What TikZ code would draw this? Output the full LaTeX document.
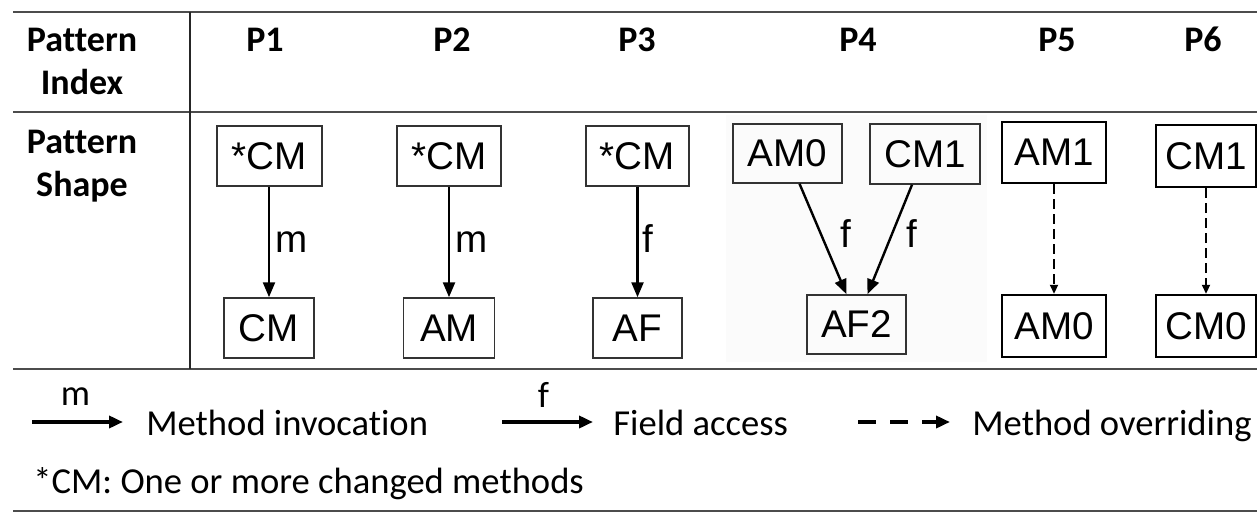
\documentclass[tikz,border=0pt]{standalone}
\usepackage{fontspec}
\setmainfont{Carlito}[Ligatures=NoCommon]
\newfontfamily\arialf{Liberation Sans}
\usetikzlibrary{arrows.meta}
\begin{document}
\begin{tikzpicture}[x=0.5pt,y=-0.5pt,
  rule/.style={line width=1.3pt, draw=black!70},
  vrule/.style={line width=1.1pt, draw=black!85},
  wh/.style 2 args={minimum width=#1*0.5pt, minimum height=#2*0.5pt},
  box/.style={draw=black!80, line width=0.75pt, inner sep=0pt, font=\arialf\fontsize{19.3}{22}\selectfont, text=black},
  tbox/.style={box, line width=1.2pt, draw=black},
  hdr/.style={font=\bfseries\fontsize{18}{21}\selectfont, anchor=base, inner sep=0pt},
  arr/.style={line width=1.2pt, -{Triangle[length=7.5pt,width=6pt]}},
  darr/.style={line width=0.9pt, dash pattern=on 5pt off 2.5pt, -{Triangle[length=4.5pt,width=4pt]}},
  elbl/.style={font=\arialf\fontsize{19.3}{22}\selectfont, anchor=base west, inner sep=0pt},
  leg/.style={font=\fontsize{18.3}{21}\selectfont, anchor=base west, inner sep=0pt},
  legarr/.style={line width=1.9pt, -{Triangle[length=7pt,width=6pt]}},
  legdarr/.style={line width=1.9pt, dash pattern=on 9pt off 7pt, -{Triangle[length=7pt,width=6pt]}},
]
\useasboundingbox (0,0) rectangle (1257,513);
% faint background of the P4 image
\fill[black!1.5] (726,115) rectangle (987,362);
% table rules
\draw[rule] (13,12) -- (1257,12);
\draw[rule] (13,112) -- (1257,112);
\draw[rule] (13,369) -- (1257,369);
\draw[rule] (13,511) -- (1257,511);
\draw[vrule] (190,12) -- (190,369);
% headers
\node[hdr] (h1) at (82,52) {Pattern};
\node[hdr] (h2) at (82,95) {Index};
\node[hdr] (h3) at (82,154) {Pattern};
\node[hdr] (h4) at (82,197) {Shape};
\node[hdr] (pa) at (265,52) {P1};
\node[hdr] (pb) at (452,52) {P2};
\node[hdr] (pc) at (637,52) {P3};
\node[hdr] (pd) at (858,52) {P4};
\node[hdr] (pe) at (1057,52) {P5};
\node[hdr] (pf) at (1203,52) {P6};
% P1
\node[box, wh={105}{60}] (a1) at (269.5,156) {*CM};
\node[box, wh={90}{60}] (a2) at (269,328) {CM};
\draw[arr] (a1.south -| a2.north) -- node[elbl, xshift=2.5pt, yshift=-5.5pt] {m} (a2.north);
% P2
\node[box, wh={104}{60}] (b1) at (449,156) {*CM};
\node[box, wh={91}{60}] (b2) at (449,328) {AM};
\draw[arr] (b1.south) -- node[elbl, xshift=2.5pt, yshift=-5.5pt] {m} (b2.north);
% P3
\node[box, wh={103}{60}] (c1) at (637.5,156) {*CM};
\node[box, wh={89}{60}] (c2) at (637.5,328) {AF};
\draw[arr] (c1.south) -- node[elbl, xshift=2pt, yshift=-5.5pt] {f} (c2.north);
% P4
\node[box, wh={109}{59}] (d1) at (787.5,153.5) {AM0};
\node[box, wh={110}{60}] (d2) at (925,154) {CM1};
\node[box, wh={99}{59}] (d3) at (856.5,324.5) {AF2};
\draw[arr] ([xshift=6pt]d1.south) -- node[elbl, xshift=8pt, yshift=-4.25pt] {f} ([xshift=-5pt]d3.north);
\draw[arr] ([xshift=-6.5pt]d2.south) -- node[elbl, xshift=8pt, yshift=-4.25pt] {f} ([xshift=5.5pt]d3.north);
% P5
\node[tbox, wh={104}{61}] (e1) at (1054,152.5) {AM1};
\node[tbox, wh={104}{62}] (e2) at (1054,326) {AM0};
\draw[darr] (e1.south) -- (e2.north);
% P6
\node[tbox, wh={100}{62}] (f1) at (1206,156) {CM1};
\node[tbox, wh={100}{62}] (f2) at (1206,326) {CM0};
\draw[darr] (f1.south) -- (f2.north);
% legend
\coordinate (la) at (32,422);
\coordinate (lb) at (123,422);
\coordinate (lc) at (502,422);
\coordinate (ld) at (593,422);
\coordinate (le) at (858,422);
\coordinate (lf) at (950,422);
\draw[legarr] (la) -- node[font=\fontsize{18.3}{21}\selectfont, anchor=base, inner sep=0pt, yshift=8.5pt, xshift=-1pt] {m} (lb);
\draw[legarr] (lc) -- node[font=\fontsize{18.3}{21}\selectfont, anchor=base, inner sep=0pt, yshift=7.5pt, xshift=-2pt] {f} (ld);
\draw[legdarr] (le) -- (lf);
\node[leg] (t1) at (146,435) {Method invocation};
\node[leg] (t2) at (613,435) {Field access};
\node[leg] (t3) at (972,435) {Method overriding};
\node[leg] (t4) at (33,493) {*CM: One or more changed methods};
\end{tikzpicture}
\end{document}
